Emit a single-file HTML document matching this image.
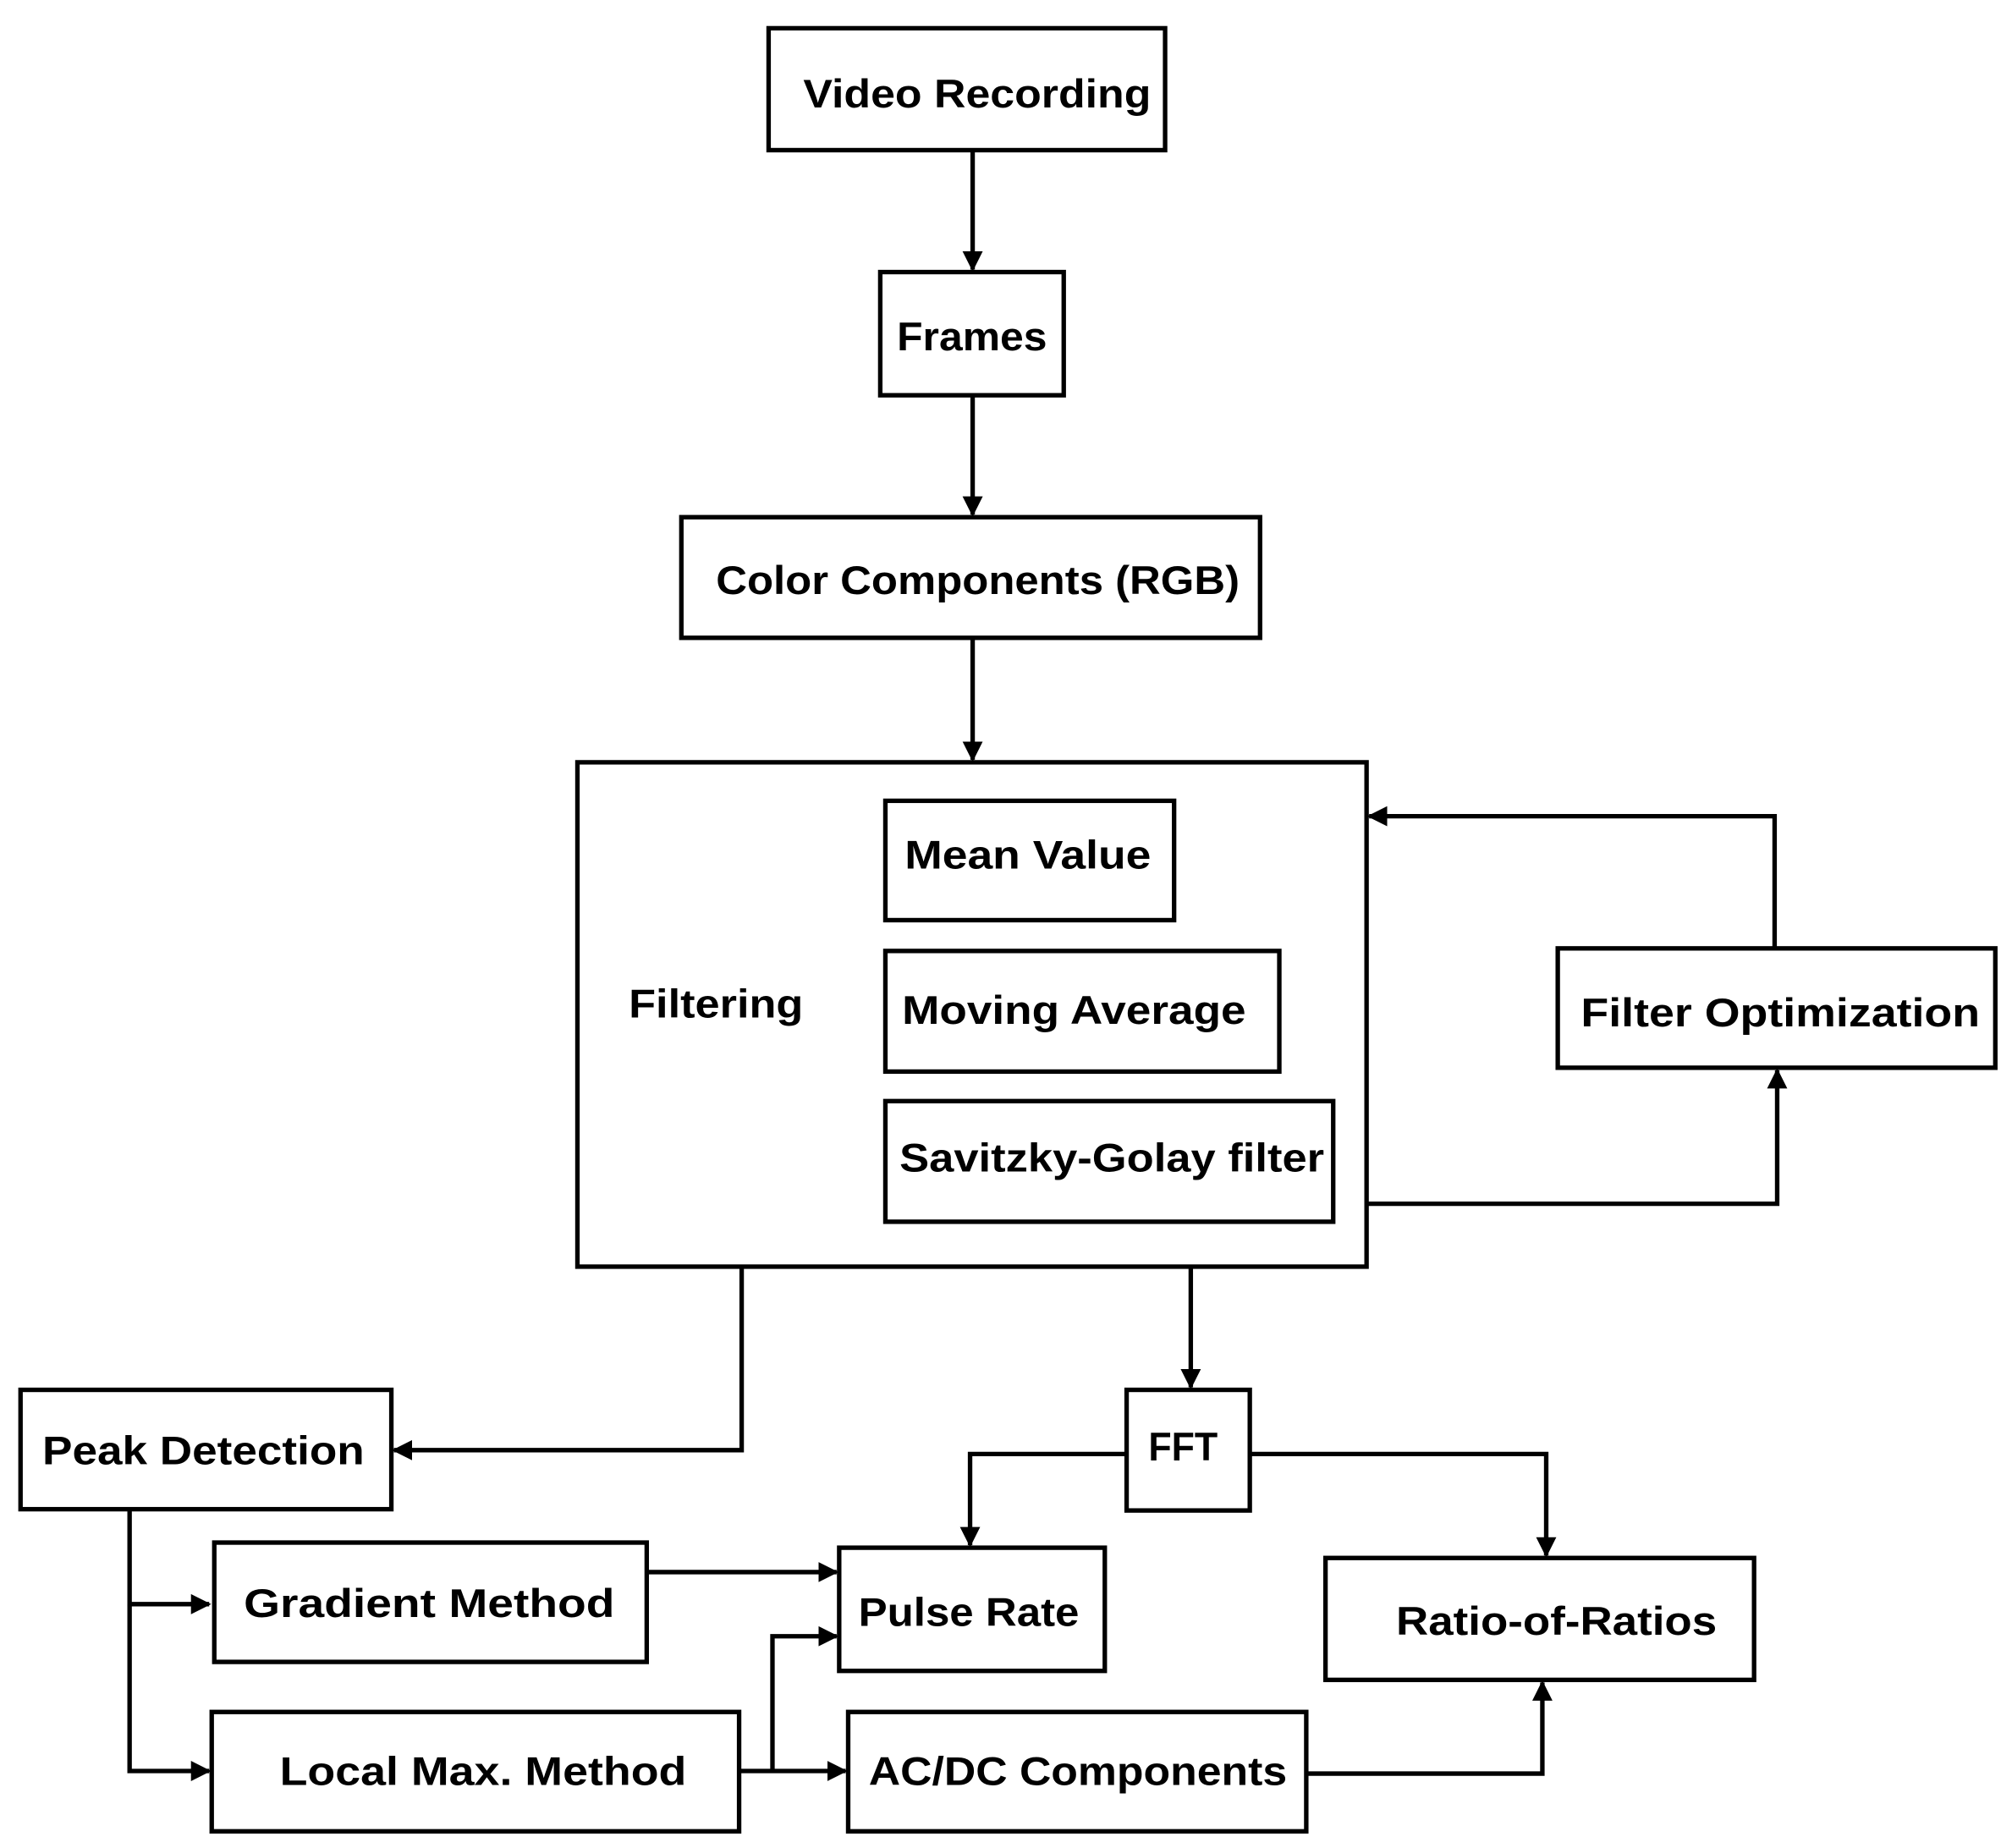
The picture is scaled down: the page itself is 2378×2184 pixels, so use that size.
<!DOCTYPE html>
<html><head><meta charset="utf-8"><style>html,body{margin:0;padding:0;background:#fff}svg{display:block}</style></head>
<body>
<svg width="2378" height="2184" viewBox="0 0 1568 1440" preserveAspectRatio="none" xmlns="http://www.w3.org/2000/svg">
<defs><marker id="a" viewBox="0 0 10 10" refX="9" refY="5" markerWidth="4.5" markerHeight="4.5" orient="auto"><path d="M0,0L10,5L0,10z" fill="#000"/></marker></defs>
<g fill="#fff" stroke="#000" stroke-width="3.5">
<rect x="599" y="22" width="309" height="95"/>
<rect x="686" y="212" width="143" height="96"/>
<rect x="531" y="403" width="451" height="94"/>
<rect x="450" y="594" width="615" height="393"/>
<rect x="690" y="624" width="225" height="93"/>
<rect x="690" y="741" width="307" height="94"/>
<rect x="690" y="858" width="349" height="94"/>
<rect x="1214" y="739" width="341" height="93"/>
<rect x="16" y="1083" width="289" height="93"/>
<rect x="878" y="1083" width="96" height="94"/>
<rect x="654" y="1206" width="207" height="96"/>
<rect x="1033" y="1214" width="334" height="95"/>
<rect x="167" y="1202" width="337" height="93"/>
<rect x="165" y="1334" width="411" height="93"/>
<rect x="661" y="1334" width="357" height="93"/>
</g>
<g fill="none" stroke="#000" stroke-width="3.5" marker-end="url(#a)">
<path d="M758 117V210"/>
<path d="M758 308V401"/>
<path d="M758 497V592"/>
<path d="M1383 739V636H1067"/>
<path d="M1065 938H1385V834"/>
<path d="M578 987V1130H307"/>
<path d="M928 987V1081"/>
<path d="M878 1133H756V1204"/>
<path d="M974 1133H1205V1212"/>
<path d="M101 1176V1250H163"/>
<path d="M101 1250V1380H163"/>
<path d="M504 1225H652"/>
<path d="M576 1380H659"/>
<path d="M602 1380V1275H652"/>
<path d="M1018 1382H1202V1311"/>
</g>
<g font-family="Liberation Sans, sans-serif" font-weight="bold" font-size="31" fill="#000" dominant-baseline="central">
<text x="626" y="73" textLength="271" lengthAdjust="spacingAndGlyphs">Video Recording</text>
<text x="699" y="262" textLength="117" lengthAdjust="spacingAndGlyphs">Frames</text>
<text x="558" y="452" textLength="408" lengthAdjust="spacingAndGlyphs">Color Components (RGB)</text>
<text x="490" y="782" textLength="136" lengthAdjust="spacingAndGlyphs">Filtering</text>
<text x="705" y="666" textLength="192" lengthAdjust="spacingAndGlyphs">Mean Value</text>
<text x="703" y="787" textLength="268" lengthAdjust="spacingAndGlyphs">Moving Average</text>
<text x="701" y="902" textLength="331" lengthAdjust="spacingAndGlyphs">Savitzky-Golay filter</text>
<text x="1232" y="789" textLength="311" lengthAdjust="spacingAndGlyphs">Filter Optimization</text>
<text x="33" y="1130" textLength="251" lengthAdjust="spacingAndGlyphs">Peak Detection</text>
<text x="895" y="1127" textLength="54" lengthAdjust="spacingAndGlyphs">FFT</text>
<text x="669" y="1256" textLength="172" lengthAdjust="spacingAndGlyphs">Pulse Rate</text>
<text x="1088" y="1263" textLength="250" lengthAdjust="spacingAndGlyphs">Ratio-of-Ratios</text>
<text x="190" y="1249" textLength="289" lengthAdjust="spacingAndGlyphs">Gradient Method</text>
<text x="218" y="1380" textLength="317" lengthAdjust="spacingAndGlyphs">Local Max. Method</text>
<text x="677" y="1380" textLength="326" lengthAdjust="spacingAndGlyphs">AC/DC Components</text>
</g>
</svg>
</body></html>
